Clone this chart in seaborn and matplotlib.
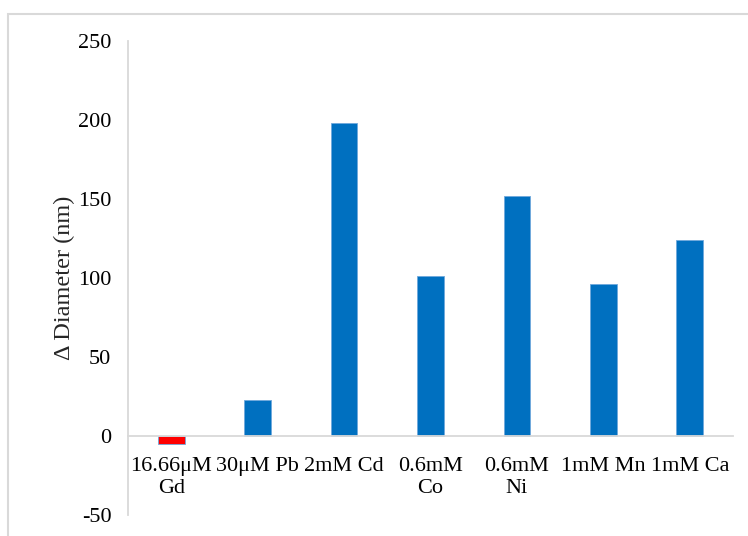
import matplotlib
matplotlib.use("Agg")
import matplotlib.pyplot as plt
from matplotlib.patches import Rectangle
import seaborn as sns
import pandas as pd

# Change in particle diameter for each metal-ion treatment
treatments = ["16.66μM\nGd", "30μM Pb", "2mM Cd", "0.6mM\nCo", "0.6mM\nNi", "1mM Mn", "1mM Ca"]
delta_diameter = [-5, 23, 198, 101.5, 152, 96, 124]
bar_colors = ["#FF0000", "#0070C0", "#0070C0", "#0070C0", "#0070C0", "#0070C0", "#0070C0"]
y_ticks = [-50, 0, 50, 100, 150, 200, 250]

df = pd.DataFrame({"treatment": treatments, "delta": delta_diameter})

sns.set_style("white")
plt.rcParams["font.family"] = ["Liberation Serif", "DejaVu Serif"]

fig = plt.figure(figsize=(7.48, 5.36), dpi=100)
ax = fig.add_axes([0.1711, 0.0392, 0.8089, 0.8843])

sns.barplot(data=df, x="treatment", y="delta", hue="treatment",
            palette=dict(zip(treatments, bar_colors)), legend=False,
            saturation=1, width=0.31, edgecolor="#6FA8DC", linewidth=0.6, ax=ax)

ax.set_ylim(-50, 250)
ax.set_xlim(-0.5, len(treatments) - 0.5)
ax.set_yticks(y_ticks)
ax.set_yticklabels([str(t) for t in y_ticks], fontsize=16)

# Category axis sits on the zero line
ax.spines["bottom"].set_position(("data", 0))
for side in ("top", "right"):
    ax.spines[side].set_visible(False)
for side in ("left", "bottom"):
    ax.spines[side].set_color("#D9D9D9")
    ax.spines[side].set_linewidth(1.3)

ax.tick_params(axis="y", length=6, width=1.3, color="#D9D9D9", pad=6, labelcolor="black")
ax.tick_params(axis="x", length=0, pad=15, labelsize=16, labelcolor="black")
for lbl in ax.get_xticklabels():
    lbl.set_linespacing(1.25)
    lbl.set_verticalalignment("top")

ax.set_xlabel("")
ax.set_ylabel("Δ Diameter (nm)", fontsize=17.5, labelpad=2)

# Light frame around the chart area
fig.patches.append(Rectangle((8 / 748, -0.1), 1.2, 1 - 14 / 536 + 0.1,
                             transform=fig.transFigure, fill=False,
                             edgecolor="#D9D9D9", linewidth=1.5))

fig.savefig("out.png", dpi=100)
